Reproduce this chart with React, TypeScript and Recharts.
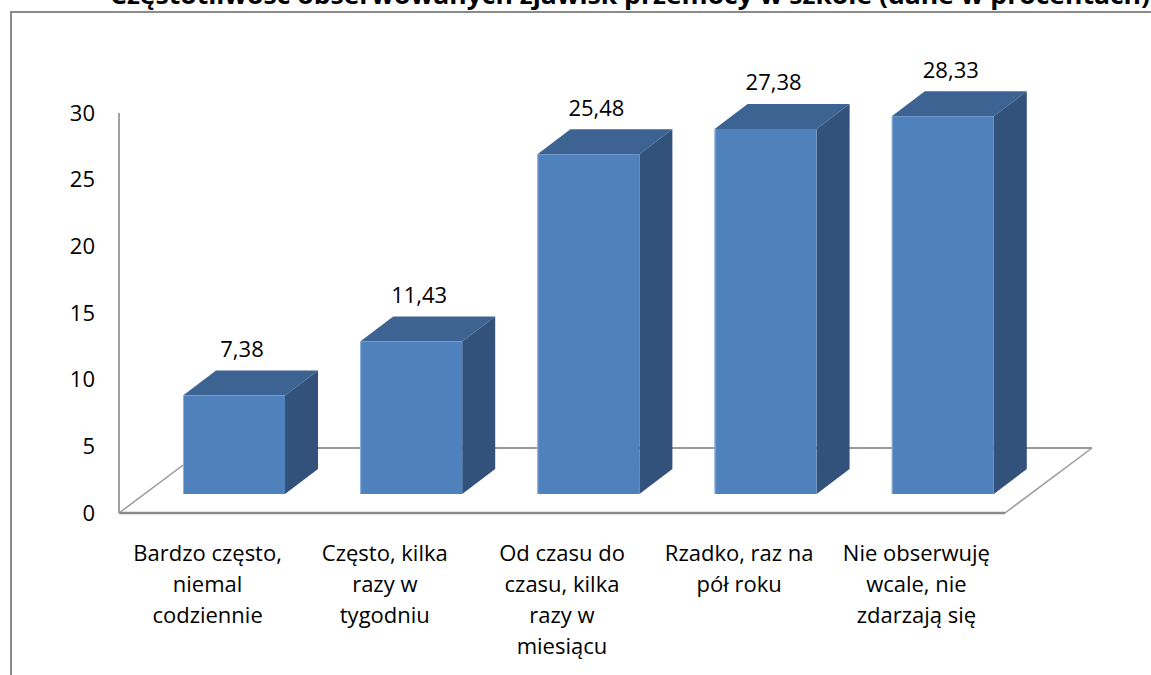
import React from 'react';
import { Bar, BarChart, LabelList, ReferenceArea, XAxis, YAxis } from 'recharts';

const title = 'Częstotliwość obserwowanych zjawisk przemocy w szkole (dane w procentach)';
const categories = [
  'Bardzo często,\nniemal\ncodziennie',
  'Często, kilka\nrazy w\ntygodniu',
  'Od czasu do\nczasu, kilka\nrazy w\nmiesiącu',
  'Rzadko, raz na\npół roku',
  'Nie obserwuję\nwcale, nie\nzdarzają się',
];
const values = [7.38, 11.43, 25.48, 27.38, 28.33];
const yTicks = [0, 5, 10, 15, 20, 25, 30];

const data = categories.map((name, i) => ({ name, value: values[i] }));

const FONT = '"Open Sans", sans-serif';
// where the bars stand on the floor, and how deep they are
const POS_X = 26;
const POS_Y = 19;
const DEPTH_X = 33;
const DEPTH_Y = 25;
// floor depth
const FLOOR_X = 87;
const FLOOR_Y = 65;

function Bar3D(props: any) {
  const { x, y, width, height } = props;
  const fx = x + POS_X;
  const fy = y - POS_Y;
  const r = fx + width;
  return (
    <g>
      <polygon
        points={`${fx},${fy} ${fx + DEPTH_X},${fy - DEPTH_Y} ${r + DEPTH_X},${fy - DEPTH_Y} ${r},${fy}`}
        fill="#3d6392"
      />
      <polygon
        points={`${r},${fy} ${r + DEPTH_X},${fy - DEPTH_Y} ${r + DEPTH_X},${fy + height - DEPTH_Y} ${r},${fy + height}`}
        fill="#32527b"
      />
      <rect x={fx} y={fy} width={width} height={height} fill="#4f81bd" />
      <line x1={fx + 0.5} y1={fy} x2={fx + 0.5} y2={fy + height} stroke="#8fb0da" strokeWidth={1} />
    </g>
  );
}

function Floor(props: any) {
  const { x, y, width, height } = props;
  const b = y + height;
  const stroke = '#9a9a9a';
  return (
    <g>
      <line x1={x} y1={b} x2={x + FLOOR_X} y2={b - FLOOR_Y} stroke={stroke} strokeWidth={1.5} />
      <line x1={x + width} y1={b} x2={x + width + FLOOR_X} y2={b - FLOOR_Y} stroke={stroke} strokeWidth={1.5} />
      <line x1={x + FLOOR_X} y1={b - FLOOR_Y} x2={x + width + FLOOR_X} y2={b - FLOOR_Y} stroke={stroke} strokeWidth={2} />
    </g>
  );
}

function CategoryTick(props: any) {
  const { x, y, payload } = props;
  const lines = String(payload.value).split('\n');
  return (
    <text x={x} y={y} textAnchor="middle" fontFamily={FONT} fontSize={22} fill="#000">
      {lines.map((line, i) => (
        <tspan key={i} x={x} y={y + 40 + i * 31}>
          {line}
        </tspan>
      ))}
    </text>
  );
}

function ValueLabel(props: any) {
  const { x, y, width, value } = props;
  return (
    <text
      x={x + width / 2 + POS_X + 8}
      y={y - POS_Y - DEPTH_Y - 21 + 7.5}
      textAnchor="middle"
      fontFamily={FONT}
      fontSize={22}
      fill="#000"
    >
      {Number(value).toFixed(2).replace('.', ',')}
    </text>
  );
}

export default function App() {
  return (
    <div style={{ position: 'absolute', left: 0, top: 0, width: 1151, height: 675, overflow: 'hidden', background: '#fff' }}>
      <div
        style={{
          position: 'absolute',
          left: 10,
          top: 11,
          width: 1300,
          height: 800,
          borderLeft: '2px solid #8a8a8a',
          borderTop: '2px solid #8a8a8a',
        }}
      />
      <svg width={1151} height={20} style={{ position: 'absolute', left: 0, top: 0 }}>
        <text
          x={630}
          y={4}
          textAnchor="middle"
          fontFamily={FONT}
          fontWeight={700}
          fontSize={25}
          textLength={1040}
          lengthAdjust="spacingAndGlyphs"
          fill="#000"
        >
          {title}
        </text>
      </svg>
      <div style={{ position: 'absolute', left: 0, top: 0 }}>
        <BarChart width={1151} height={675} data={data} margin={{ top: 113, right: 146, bottom: 12, left: 59 }}>
          <ReferenceArea y1={0} y2={30} shape={<Floor />} ifOverflow="visible" />
          <XAxis
            dataKey="name"
            interval={0}
            height={150}
            tickLine={false}
            axisLine={{ stroke: '#8a8a8a', strokeWidth: 2.5 }}
            tick={<CategoryTick />}
          />
          <YAxis
            domain={[0, 30]}
            ticks={yTicks}
            width={60}
            tickLine={false}
            tickMargin={18}
            axisLine={{ stroke: '#a0a0a0', strokeWidth: 2 }}
            tick={{ fontFamily: FONT, fontSize: 22, fill: '#000' }}
          />
          <Bar dataKey="value" barSize={102} shape={<Bar3D />} isAnimationActive={false}>
            <LabelList dataKey="value" content={<ValueLabel />} />
          </Bar>
        </BarChart>
      </div>
    </div>
  );
}
